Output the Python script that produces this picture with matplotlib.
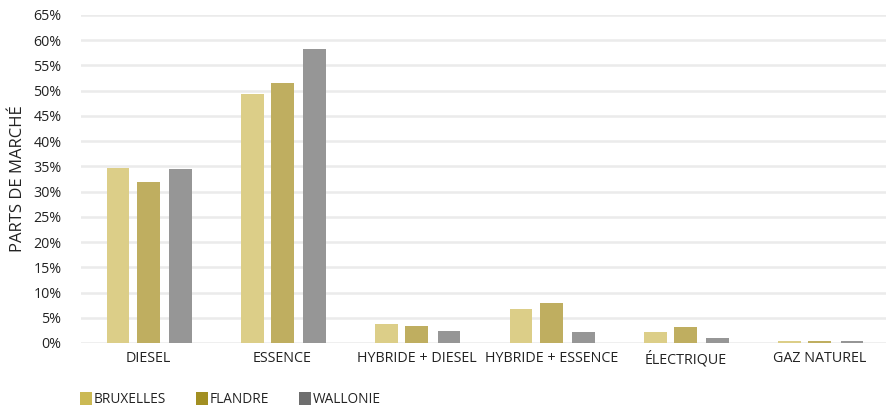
import matplotlib
matplotlib.use("Agg")
import matplotlib.pyplot as plt
from matplotlib.patches import Patch
import numpy as np

categories = ["DIESEL", "ESSENCE", "HYBRIDE + DIESEL", "HYBRIDE + ESSENCE", "ÉLECTRIQUE", "GAZ NATUREL"]
bruxelles = [34.7, 49.3, 3.8, 6.7, 2.2, 0.3]
flandre = [31.9, 51.5, 3.4, 7.9, 3.2, 0.3]
wallonie = [34.5, 58.3, 2.4, 2.2, 1.0, 0.3]
series_names = ["BRUXELLES", "FLANDRE", "WALLONIE"]
yticks = list(range(0, 70, 5))

plt.rcParams['font.family'] = ['Open Sans', 'DejaVu Sans']

fig = plt.figure(figsize=(8.87, 4.09), dpi=100)
ax = fig.add_axes([81/887, 66/409, 806/887, 328/409])

x = np.arange(len(categories))
w = 0.17
bar_colors = ["#DCCE88", "#BFAE60", "#969696"]
legend_colors = ["#CBB954", "#A28F22", "#6E6E6E"]
offsets = [-0.225, 0.0, 0.24]
for vals, off, c in zip([bruxelles, flandre, wallonie], offsets, bar_colors):
    ax.bar(x + off, vals, width=w, color=c, zorder=3)

ax.set_xlim(-0.5, len(categories) - 0.5)
ax.set_ylim(0, 65)
ax.set_yticks(yticks)
ax.set_yticklabels([f"{t}%" for t in yticks])
ax.set_xticks(x)
ax.set_xticklabels(categories)
ax.tick_params(axis='both', length=0, labelsize=10.3, colors="#222222")
ax.tick_params(axis='y', pad=14)
ax.tick_params(axis='x', pad=6)
for s in ax.spines.values():
    s.set_visible(False)
ax.yaxis.grid(True, color="#EBEBEB", linewidth=1.8, zorder=0)
ax.set_axisbelow(True)
ax.set_ylabel("PARTS DE MARCHÉ", fontsize=12, color="#222222", labelpad=5)

handles = [Patch(facecolor=c, edgecolor='none') for c in legend_colors]
fig.legend(handles, series_names, loc='lower left', bbox_to_anchor=(68/887, -0.025),
           ncol=3, frameon=False, fontsize=9.8, handlelength=0.9, handleheight=1.1,
           handletextpad=0.1, columnspacing=2.2, labelcolor="#222222")

fig.savefig("out.png", dpi=100)
